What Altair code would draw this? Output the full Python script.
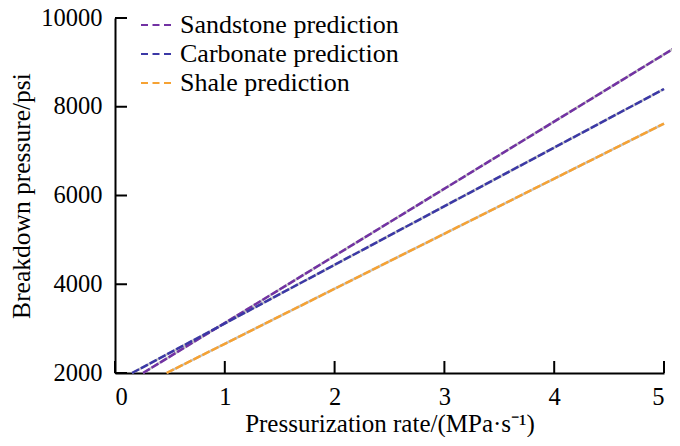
import altair as alt
import pandas as pd

series_names = ["Sandstone prediction", "Carbonate prediction", "Shale prediction"]
colors = ["#7232a3", "#3b38a6", "#f6a233"]

sand_x = [0.255, 5.08]
sand_y = [2000, 9300]
carb_x = [0.155, 5.0]
carb_y = [2000, 8400]
shale_x = [0.47, 5.0]
shale_y = [2000, 7620]

x_ticks = [0, 1, 2, 3, 4, 5]
y_ticks = [2000, 4000, 6000, 8000, 10000]

rows = []
for name, xs, ys in zip(series_names, [sand_x, carb_x, shale_x], [sand_y, carb_y, shale_y]):
    for xv, yv in zip(xs, ys):
        rows.append({"series": name, "rate": xv, "pressure": yv})
df = pd.DataFrame(rows)

W, H = 549, 355
FONT = "Liberation Serif, Times New Roman, Times, serif"

xscale = alt.Scale(domain=[0, 5], nice=False, zero=False)
yscale = alt.Scale(domain=[2000, 10000], nice=False, zero=False)

xenc = alt.X("rate:Q", scale=xscale,
             axis=alt.Axis(values=x_ticks, format="d", title="Pressurization rate/(MPa·s⁻¹)",
                           tickSize=0, labelPadding=12, titlePadding=3, grid=False,
                           titleFontSize=25))
yenc = alt.Y("pressure:Q", scale=yscale,
             axis=alt.Axis(values=y_ticks, format="d", title="Breakdown pressure/psi",
                           tickSize=0, labelPadding=13, titlePadding=6, grid=False,
                           titleFontSize=25.5))

base = alt.Chart(df)

gray = base.mark_line(color="#c4c4c4", strokeWidth=2.5, clip=False).encode(
    x=xenc, y=yenc, detail="series:N")

dashed = base.mark_line(strokeWidth=2.5, strokeDash=[8, 2], clip=False).encode(
    x=xenc, y=yenc,
    color=alt.Color("series:N",
                    scale=alt.Scale(domain=series_names, range=colors),
                    sort=series_names,
                    legend=alt.Legend(title=None, orient="none", legendX=25, legendY=-9,
                                      symbolType="stroke", symbolSize=900,
                                      symbolStrokeWidth=2, symbolDash=[7, 4.5],
                                      labelFont=FONT, labelFontSize=26, labelColor="black",
                                      labelOffset=8, rowPadding=0, labelLimit=400)))

xt = pd.DataFrame({"t": x_ticks})
yt = pd.DataFrame({"t": y_ticks})

xtick_rules = alt.Chart(xt).mark_rule(color="black", strokeWidth=2).encode(
    x=alt.X("t:Q", scale=xscale), y=alt.value(H), y2=alt.value(H - 12))
ytick_rules = alt.Chart(yt).mark_rule(color="black", strokeWidth=2).encode(
    y=alt.Y("t:Q", scale=yscale), x=alt.value(0), x2=alt.value(12))

chart = alt.layer(gray, dashed, xtick_rules, ytick_rules).properties(
    width=W, height=H,
    autosize=alt.AutoSizeParams(type="none"),
    padding={"left": 107, "top": 10, "right": 8, "bottom": 64},
).configure_view(stroke=None).configure_axis(
    domainColor="black", domainWidth=2,
    labelFont=FONT, labelFontSize=24.5, labelColor="black",
    titleFont=FONT, titleColor="black", titleFontWeight="normal",
)

chart.save("out.html", embed_options={"renderer": "svg", "actions": False})
